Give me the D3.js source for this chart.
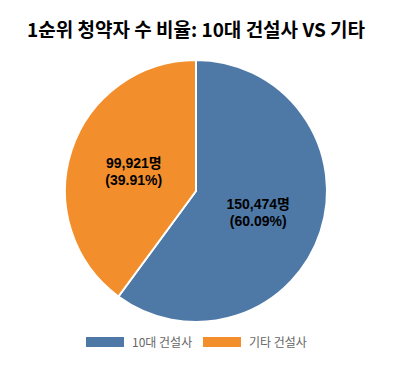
<!DOCTYPE html>
<html>
<head>
<meta charset="utf-8">
<script src="https://cdn.jsdelivr.net/npm/d3@7"></script>
<style>
  body { margin: 0; background: #fff; }
  svg { display: block; }
</style>
</head>
<body>
<div id="chart"></div>
<script>
(function () {
  // Data
  const categories = ["10대 건설사", "기타 건설사"];
  const values = [150474, 99921];
  const colors = ["#4e79a7", "#f28e2b"];

  const width = 404;
  const height = 368;
  const cx = 196;
  const cy = 191;
  const radius = 131;

  const svg = d3
    .select("#chart")
    .append("svg")
    .attr("width", width)
    .attr("height", height);

  // Title
  svg
    .append("text")
    .attr("x", 196)
    .attr("y", 37)
    .attr("text-anchor", "middle")
    .style("font-family", "'Noto Sans CJK KR', 'Noto Sans', sans-serif")
    .style("font-weight", "bold")
    .style("font-size", "19px")
    .style("fill", "#000")
    .text("1순위 청약자 수 비율: 10대 건설사 VS 기타");

  const data = categories.map((c, i) => ({ name: c, value: values[i], color: colors[i] }));
  const total = d3.sum(values);

  const pie = d3.pie().sort(null).value((d) => d.value);
  const arc = d3.arc().innerRadius(0).outerRadius(radius);
  const labelArc = d3.arc().innerRadius(radius * 0.5).outerRadius(radius * 0.5);

  const g = svg.append("g").attr("transform", `translate(${cx},${cy})`);

  const arcs = pie(data);

  g.selectAll("path")
    .data(arcs)
    .enter()
    .append("path")
    .attr("d", arc)
    .style("fill", (d) => d.data.color)
    .style("stroke", "#fff")
    .style("stroke-width", 2);

  // Slice labels
  const labels = g
    .selectAll(".slice-label")
    .data(arcs)
    .enter()
    .append("text")
    .attr("class", "slice-label")
    .attr("transform", (d) => `translate(${labelArc.centroid(d)})`)
    .attr("text-anchor", "middle")
    .style("font-family", "'Liberation Sans', Arial, 'Noto Sans CJK KR', sans-serif")
    .style("font-weight", "bold")
    .style("font-size", "14px")
    .style("fill", "#000");

  labels
    .append("tspan")
    .attr("x", 0)
    .attr("dy", "-0.2em")
    .text((d) => d3.format(",")(d.data.value) + "명");

  labels
    .append("tspan")
    .attr("x", 0)
    .attr("dy", "1.25em")
    .text((d) => "(" + ((d.data.value / total) * 100).toFixed(2) + "%)");

  // Legend
  const legendX = [86, 203];
  const legend = svg
    .selectAll(".legend")
    .data(data)
    .enter()
    .append("g")
    .attr("class", "legend")
    .attr("transform", (d, i) => `translate(${legendX[i]},337)`);

  legend
    .append("rect")
    .attr("width", 38)
    .attr("height", 10)
    .style("fill", (d) => d.color);

  legend
    .append("text")
    .attr("x", 46)
    .attr("y", 9.5)
    .style("font-family", "'Noto Sans CJK KR', 'Noto Sans', sans-serif")
    .style("font-size", "12px")
    .style("fill", "#666")
    .text((d) => d.name);
})();
</script>
</body>
</html>
